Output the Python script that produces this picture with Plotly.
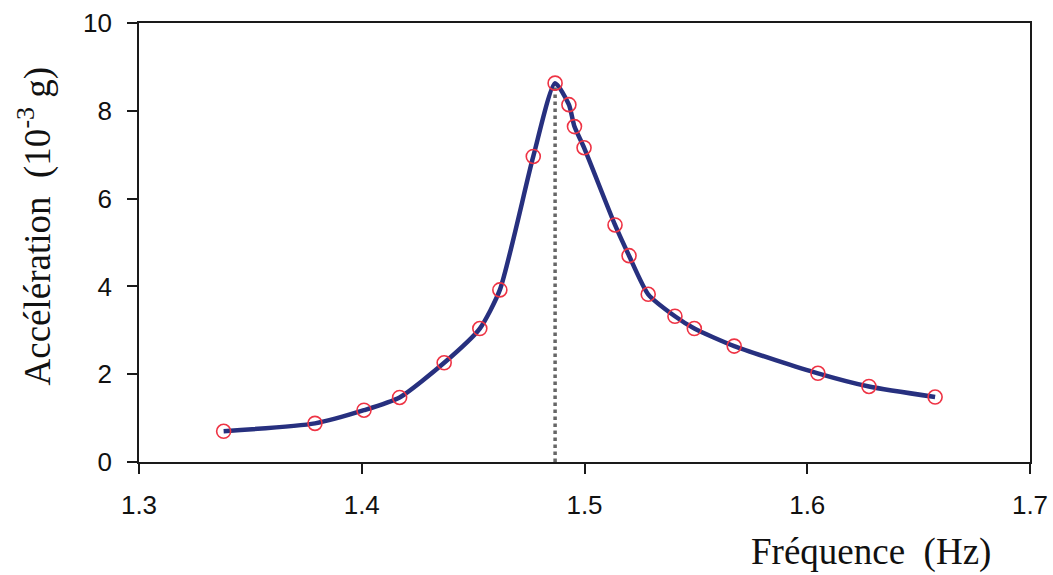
import plotly.graph_objects as go

# Resonance curve: measured acceleration vs excitation frequency
freq_hz = [1.338, 1.379, 1.401, 1.417, 1.437, 1.453, 1.462, 1.477, 1.4868,
           1.493, 1.4955, 1.4998, 1.5137, 1.5200, 1.5286, 1.5406, 1.5493,
           1.5672, 1.6048, 1.6277, 1.6574]
accel_mg = [0.70, 0.88, 1.18, 1.47, 2.26, 3.04, 3.92, 6.96, 8.63,
            8.14, 7.64, 7.16, 5.40, 4.70, 3.82, 3.32, 3.04,
            2.64, 2.02, 1.72, 1.48]

resonance_hz = [1.4868, 1.4868]
resonance_y = [0.0, 8.63]

x_ticks = [1.3, 1.4, 1.5, 1.6, 1.7]
y_ticks = [0, 2, 4, 6, 8, 10]

fig = go.Figure()

fig.add_trace(go.Scatter(
    x=resonance_hz, y=resonance_y, mode="lines",
    line=dict(color="#666666", width=3.5, dash="dot"),
    hoverinfo="skip", showlegend=False,
))

fig.add_trace(go.Scatter(
    x=freq_hz, y=accel_mg, mode="lines",
    line=dict(color="#27307f", width=4.5, shape="spline", smoothing=0.6),
    showlegend=False,
))

fig.add_trace(go.Scatter(
    x=freq_hz, y=accel_mg, mode="markers",
    marker=dict(symbol="circle-open", size=14, color="#ee3344",
                line=dict(width=1.6, color="#ee3344")),
    showlegend=False,
))

axis_font = dict(family="Liberation Sans, Arial, sans-serif", size=26, color="#111111")

fig.update_xaxes(
    range=[1.3, 1.7], tickvals=x_ticks, ticktext=[f"{v:.1f}" for v in x_ticks],
    ticks="outside", ticklen=10, tickwidth=1.8, tickcolor="#1a1a1a",
    showline=True, linecolor="#1a1a1a", linewidth=1.8, mirror=True,
    showgrid=False, zeroline=False, tickfont=axis_font, ticklabelstandoff=9,
    automargin=False,
)
fig.update_yaxes(
    range=[0, 10], tickvals=y_ticks,
    ticks="outside", ticklen=10, tickwidth=1.8, tickcolor="#1a1a1a",
    showline=True, linecolor="#1a1a1a", linewidth=1.8, mirror=True,
    showgrid=False, zeroline=False, tickfont=axis_font, ticklabelstandoff=10,
    automargin=False,
)

title_font = dict(family="Liberation Serif, Times New Roman, serif", size=37, color="#111111")

fig.add_annotation(
    text="Accélération  (10<sup>-3</sup> g)", textangle=-90,
    xref="paper", yref="paper", x=-0.117, y=0.536,
    xanchor="center", yanchor="middle", showarrow=False, font=title_font,
)
fig.add_annotation(
    text="Fréquence  (Hz)",
    xref="paper", yref="paper", x=0.821, y=-0.205,
    xanchor="center", yanchor="middle", showarrow=False, font=title_font,
)

fig.update_layout(
    width=1053, height=575,
    margin=dict(l=139, r=23, t=23, b=113),
    paper_bgcolor="white", plot_bgcolor="white",
)

fig.write_html("out.html")
